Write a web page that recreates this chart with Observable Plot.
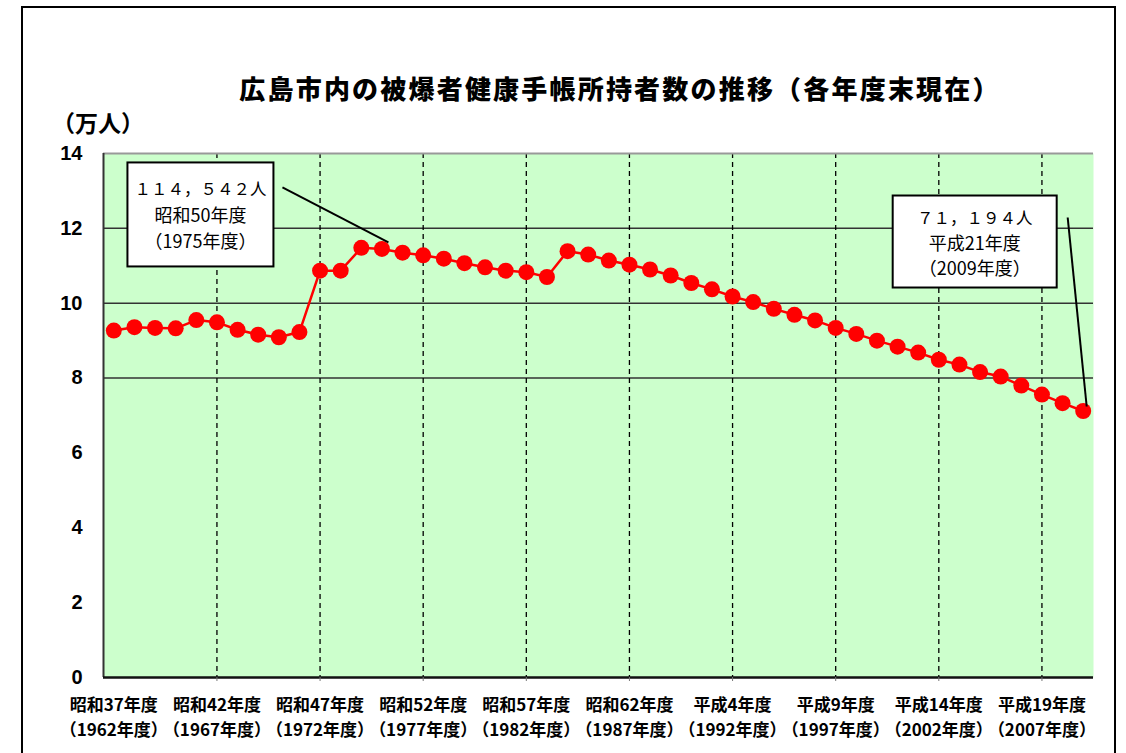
<!DOCTYPE html>
<html><head><meta charset="utf-8">
<script src="https://cdn.jsdelivr.net/npm/d3@7"></script>
<script src="https://cdn.jsdelivr.net/npm/@observablehq/plot@0.6"></script>
<style>
body{margin:0;background:#fff;}
#wrap{position:relative;width:1126px;height:753px;overflow:hidden;font-family:"Noto Sans CJK JP",sans-serif;}
#chart{position:absolute;left:0;top:0;}
#border{position:absolute;left:21px;top:6px;width:1091px;height:800px;border:2px solid #000;pointer-events:none;}
#title{position:absolute;left:120px;width:1000px;top:70px;text-align:center;font-size:26px;font-weight:900;letter-spacing:2.2px;line-height:36px;}
#unit{position:absolute;left:52px;top:107px;font-size:23px;font-weight:bold;line-height:30px;}
</style></head>
<body>
<div id="wrap">
  <div id="chart"></div>
  <div id="border"></div>
  <div id="title">広島市内の被爆者健康手帳所持者数の推移（各年度末現在）</div>
  <div id="unit">（万人）</div>
</div>
<script>
const years = [1962,1963,1964,1965,1966,1967,1968,1969,1970,1971,1972,1973,1974,1975,1976,1977,
  1978,1979,1980,1981,1982,1983,1984,1985,1986,1987,1988,1989,1990,1991,1992,1993,
  1994,1995,1996,1997,1998,1999,2000,2001,2002,2003,2004,2005,2006,2007,2008,2009];
const holders = [9.27,9.36,9.34,9.33,9.55,9.49,9.29,9.16,9.09,9.23,10.87,10.87,11.48,11.45,11.35,11.28,
  11.19,11.07,10.96,10.87,10.83,10.70,11.39,11.30,11.14,11.03,10.90,10.74,10.54,10.37,10.18,10.03,
  9.85,9.69,9.54,9.34,9.18,9.00,8.84,8.68,8.49,8.36,8.16,8.04,7.80,7.56,7.33,7.12];
const tickYears = [1962,1967,1972,1977,1982,1987,1992,1997,2002,2007];
const tickEra = ["昭和37年度","昭和42年度","昭和47年度","昭和52年度","昭和57年度","昭和62年度","平成4年度","平成9年度","平成14年度","平成19年度"];
const tickWestern = ["（1962年度）","（1967年度）","（1972年度）","（1977年度）","（1982年度）","（1987年度）","（1992年度）","（1997年度）","（2002年度）","（2007年度）"];
const yTicks = [0,2,4,6,8,10,12,14];
const gridValues = [8,10,12];
const dashedYears = [1967,1972,1977,1982,1987,1992,1997,2002,2007];
const calloutYears = [1975,2009];
const calloutLines = [["１１４，５４２人","昭和50年度","（1975年度）"],["７１，１９４人","平成21年度","（2009年度）"]];

const data = years.map((y,i)=>({year:y, value:holders[i]}));
const font = '"Noto Sans CJK JP", sans-serif';

// callout layout (pixel offsets from the annotated point)
const calloutLayout = [
  {bx:-254, by:-86, bw:146, bh:104, lx1:-99, ly1:-61, lx2:7, ly2:-6, step:26},
  {bx:-190, by:-215, bw:164, bh:92, lx1:-15, ly1:-193, lx2:4, ly2:-4, step:25}
];
function callouts(index, scales) {
  const ns = "http://www.w3.org/2000/svg";
  const g = document.createElementNS(ns,"g");
  calloutYears.forEach((yr,k)=>{
    const v = holders[years.indexOf(yr)];
    const px = scales.x(yr), py = scales.y(v);
    const L = calloutLayout[k];
    const line = document.createElementNS(ns,"line");
    line.setAttribute("x1",px+L.lx1); line.setAttribute("y1",py+L.ly1);
    line.setAttribute("x2",px+L.lx2); line.setAttribute("y2",py+L.ly2);
    line.setAttribute("stroke","#000"); line.setAttribute("stroke-width","2");
    g.appendChild(line);
    const r = document.createElementNS(ns,"rect");
    r.setAttribute("x",px+L.bx); r.setAttribute("y",py+L.by);
    r.setAttribute("width",L.bw); r.setAttribute("height",L.bh);
    r.setAttribute("fill","#fff"); r.setAttribute("stroke","#000"); r.setAttribute("stroke-width","2");
    g.appendChild(r);
    const lines = calloutLines[k];
    const cy = py + L.by + L.bh/2;
    lines.forEach((t,j)=>{
      const tx = document.createElementNS(ns,"text");
      tx.setAttribute("x", px + L.bx + L.bw/2);
      tx.setAttribute("y", cy + (j-1)*L.step);
      tx.setAttribute("text-anchor","middle");
      tx.setAttribute("dominant-baseline","central");
      tx.setAttribute("font-size", j === 0 ? "16.5" : "18");
      tx.setAttribute("font-family",font);
      tx.setAttribute("fill","#000");
      tx.textContent = t;
      g.appendChild(tx);
    });
  });
  return g;
}

const chart = Plot.plot({
  width: 1126, height: 753,
  marginLeft: 103, marginRight: 33, marginTop: 153, marginBottom: 76,
  style: {background: "transparent", fontFamily: font, color: "#000"},
  x: {domain: [1961.5, 2009.5], axis: null},
  y: {domain: [0, 14], axis: null},
  marks: [
    Plot.frame({fill: "#ccffcc", stroke: null}),
    Plot.ruleY(gridValues, {stroke: "#333", strokeWidth: 1.5}),
    Plot.ruleX(dashedYears, {stroke: "#000", strokeWidth: 1.3, strokeDasharray: "5,4"}),
    Plot.ruleY([14], {stroke: "#999", strokeWidth: 2}),
    Plot.ruleX([1961.5], {stroke: "#333", strokeWidth: 2}),
    Plot.ruleY([0], {stroke: "#111", strokeWidth: 2.5}),
    Plot.axisY({ticks: yTicks, tickSize: 0, tickPadding: 21, fontSize: 20, fontWeight: "bold", label: null,
      fontFamily: '"Liberation Sans", Arial, sans-serif', tickFormat: d => String(d)}),
    Plot.axisX({ticks: dashedYears, tickSize: 4, stroke: "#777", tickFormat: () => "", label: null}),
    Plot.text(tickYears, {x: d => d, frameAnchor: "bottom", dy: 28, lineAnchor: "middle",
      text: (d,i) => tickEra[i], fontSize: 17, fontWeight: "bold", fill: "#000"}),
    Plot.text(tickYears, {x: d => d, frameAnchor: "bottom", dy: 53, lineAnchor: "middle",
      text: (d,i) => tickWestern[i], fontSize: 17, fontWeight: "bold", fill: "#000"}),
    Plot.line(data, {x: "year", y: "value", stroke: "#ff0000", strokeWidth: 2.5}),
    Plot.dot(data, {x: "year", y: "value", r: 8, fill: "#ff0000", stroke: null}),
    callouts
  ]
});
document.getElementById("chart").appendChild(chart);
</script>
</body></html>
